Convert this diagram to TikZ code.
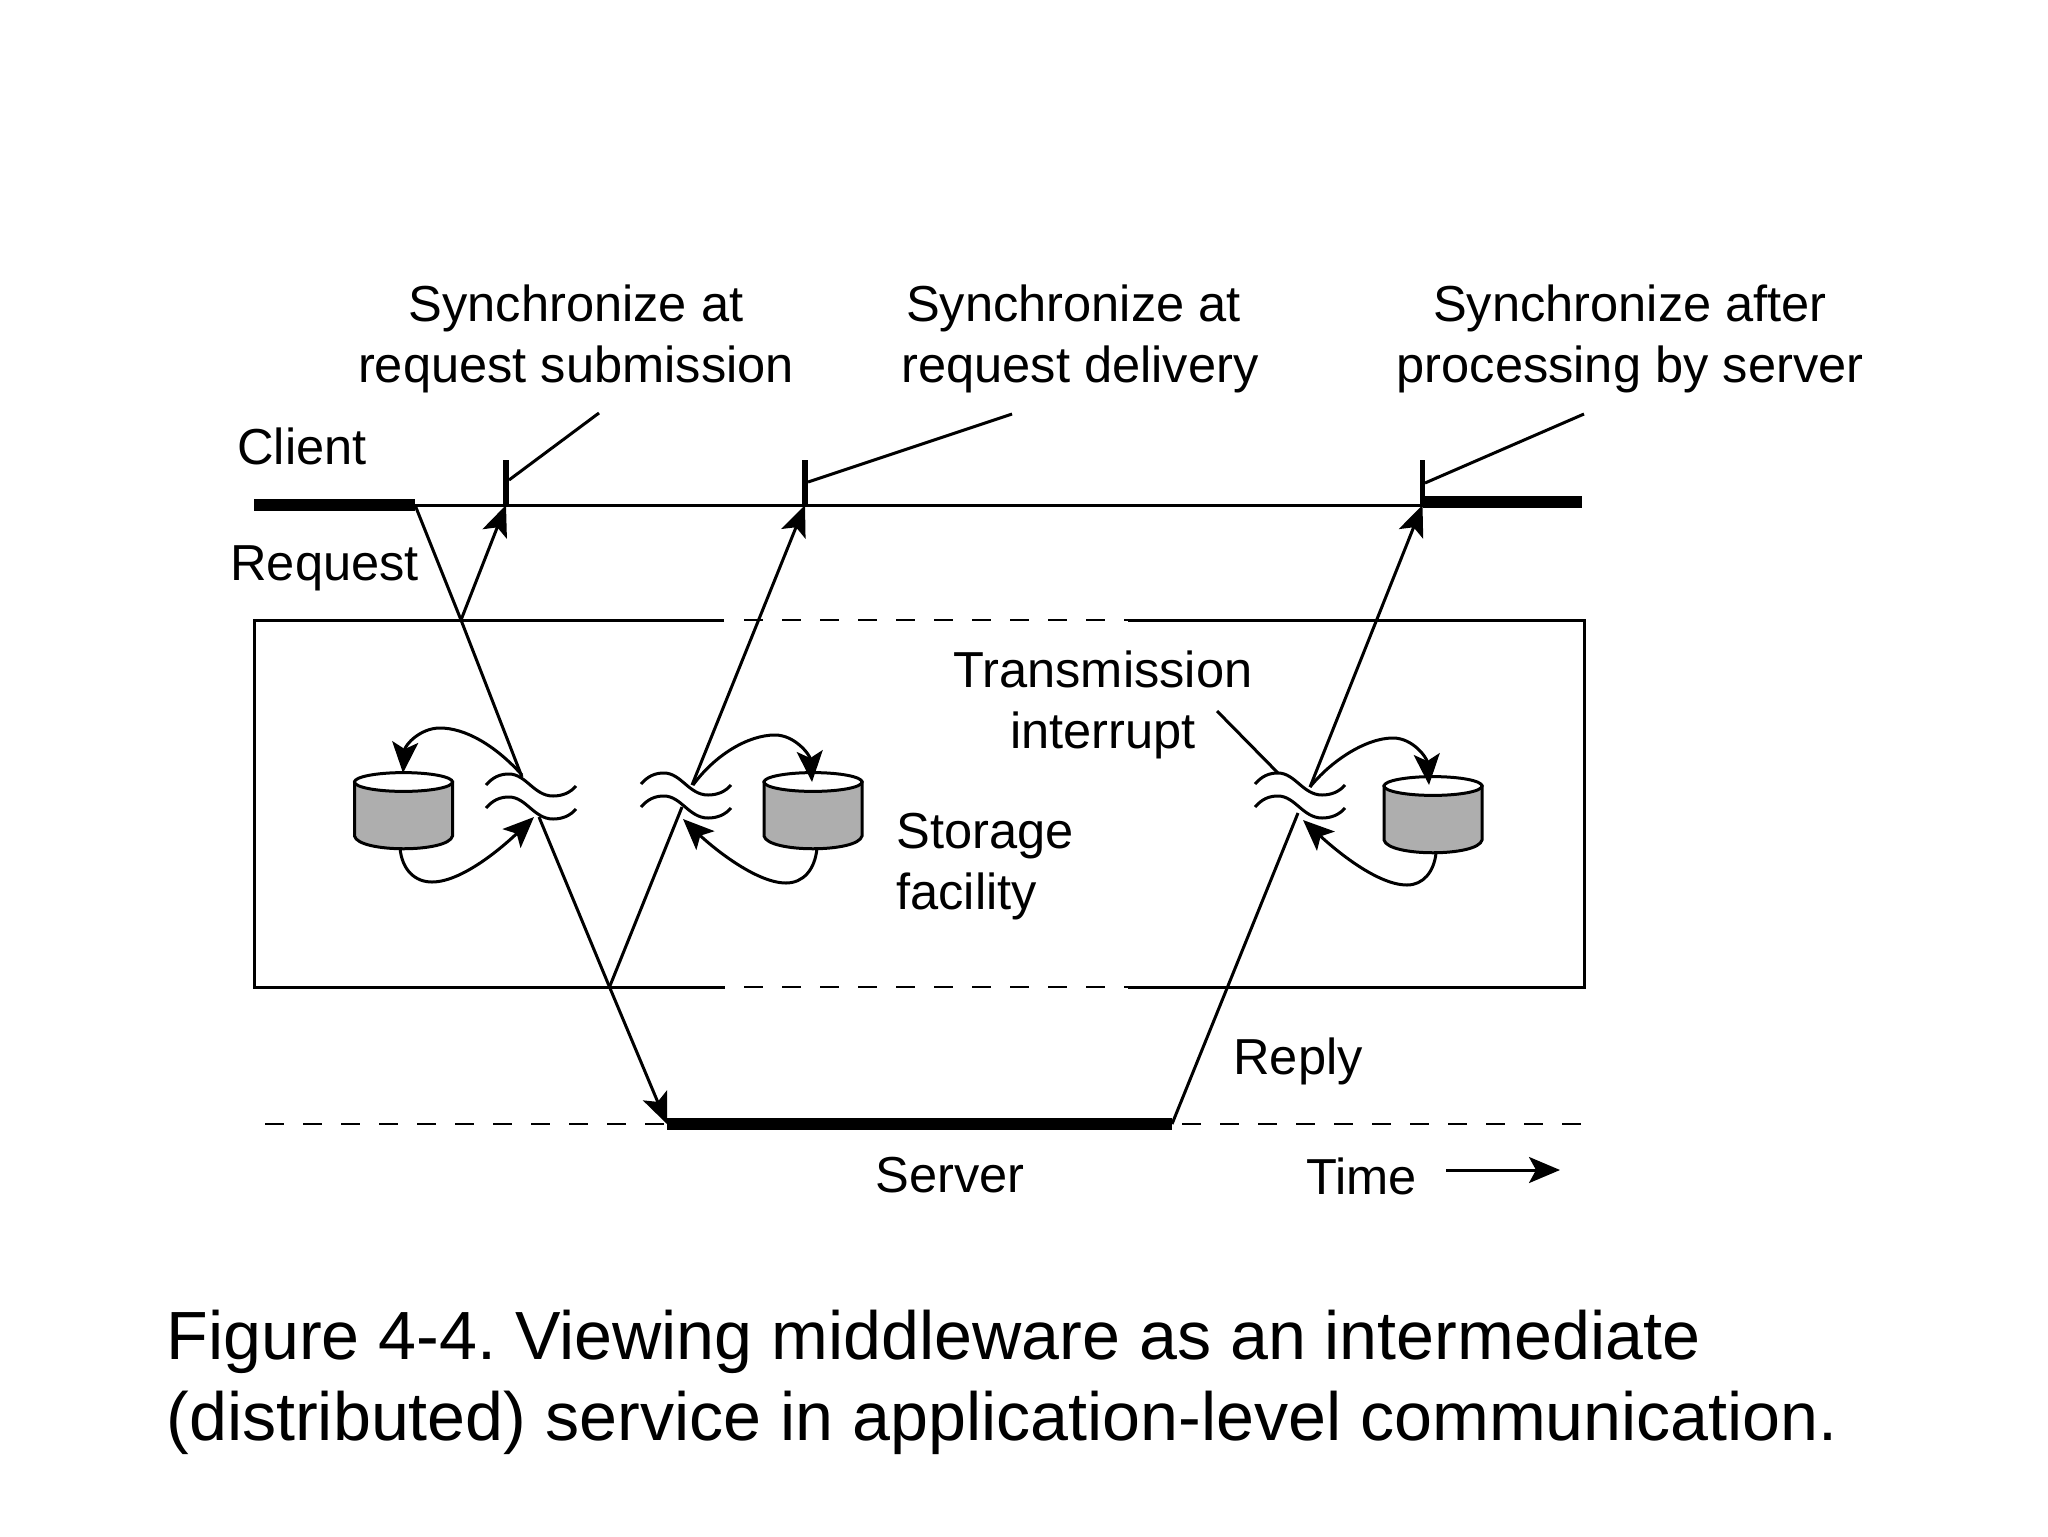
\documentclass[tikz,border=0pt]{standalone}
\usepackage{fontspec}
\setmainfont{Liberation Sans}
\usetikzlibrary{arrows.meta}
\frenchspacing
\tikzset{
  flow/.style={line width=1.5pt,-{Stealth[length=15.5pt,width=13pt,inset=3.5pt]}},
  plain/.style={line width=1.5pt},
  wave/.style={line width=1.5pt},
  heavy/.style={line width=6pt},
  tick/.style={line width=2.8pt},
  gapline/.style={line width=1.4pt,dash pattern=on 9.5pt off 9.5pt},
  label/.style={inner sep=0pt,font=\fontsize{25.3}{30.5}\selectfont},
}
\definecolor{diskgray}{HTML}{AEAEAE}
\begin{document}
\begin{tikzpicture}[x=0.5pt,y=-0.5pt]
            \useasboundingbox (0,0) rectangle (2048,1536);
            % labels
            \node[label,align=center,anchor=base] (syncsub) at (576,382.5){Synchronize at\\request submission};
            \node[label,align=center,anchor=base] (syncdel) at (1080,382.5){Synchronize at\hspace*{6.5pt}\\request delivery};
            \node[label,align=center,anchor=base] (syncsrv) at (1630,382.5){Synchronize after\\processing by server};
            \node[label,anchor=base west] (client) at (237,464){Client};
            \node[label,anchor=base west] (request) at (230,580){Request};
            \node[label,align=center,anchor=base] (interrupt) at (1103,748.5){Transmission\\interrupt};
            \node[label,align=left,anchor=base west] (storage) at (896,909.5){Storage\\facility};
            \node[label,anchor=base west] (reply) at (1233,1074){Reply};
            \node[label,anchor=base west] (server) at (875,1192.5){Server};
            \node[label,anchor=base west] (time) at (1306,1194.5){Time};
            \node[inner sep=0pt,align=left,anchor=base west,font=\fontsize{34.1}{40.5}\selectfont] (caption) at (166,1440)
              {Figure 4-4. Viewing middleware as an intermediate\\(distributed) service in application-level communication.};
            % points on the time lines
            \coordinate (c0) at (254,505);
            \coordinate (c1) at (415,505);
            \coordinate (m1) at (506,505);
            \coordinate (m2) at (805,505);
            \coordinate (m3) at (1422.5,505);
            \coordinate (c2) at (1582,502);
            \coordinate (t1) at (506,460);
            \coordinate (t2) at (805,460);
            \coordinate (t3) at (1422.5,460);
            \coordinate (s0) at (265,1124);
            \coordinate (s1) at (667,1124);
            \coordinate (s2) at (1172,1124);
            \coordinate (s3) at (1584,1124);
            \coordinate (in) at (461,620);
            \coordinate (out) at (609.5,987);
            % time lines
            \draw[heavy] (c0) -- (c1);
            \draw[plain] (c1) -- (m3);
            \draw[heavy] (m3 |- c2) -- (c2);
            \draw[heavy] (s1) -- (s2);
            \draw[gapline] (s0) -- (s1);
            \draw[gapline] (1182,1124) -- (s3);
            \foreach \i in {1,2,3}
              \draw[tick] (t\i) -- (m\i);
            % leaders
            \draw[plain] (599,413) -- (509,480);
            \draw[plain] (1012,414) -- (808,482);
            \draw[plain] (1584,414) -- (1425,483);
            \draw[plain] (1217,711) -- (1278,773);
            % middleware box
            \draw[plain] (724,620) -- (254,620) -- (254,987) -- (725,987);
            \draw[plain] (1128,620) -- (1584,620) -- (1584,987) -- (1128,987);
            \draw[gapline] (744,620) -- (1128,620);
            \draw[gapline] (744,987) -- (1128,987);
            % messages
            \draw[plain] (c1) -- (in) -- (522,777);
            \draw[flow] (539,817) -- (out) -- (s1);
            \draw[flow] (in) -- (m1);
            \draw[plain] (out) -- (682,807);
            \draw[flow] (692,785) -- (m2);
            \draw[plain] (s2) -- (1298,813);
            \draw[flow] (1310,787) -- (m3);
            % interrupts
            \foreach \x/\y in {486/785,486/808,641/784,641/807,1255/784,1255/807}
              \draw[wave,shift={(\x,\y)}] (0,0) .. controls (7,-8) and (14,-11) .. (23,-11)
                .. controls (40,-11) and (48,11) .. (67,11) .. controls (76,11) and (84,8) .. (90,1);
            % storage
            \foreach \x/\y in {403.5/782,813/782,1433/786}{
              \draw[plain,fill=diskgray,shift={(\x,\y)}] (-49,0) -- (-49,54)
                .. controls (-45,71) and (45,71) .. (49,54) -- (49,0) -- cycle;
              \draw[plain,fill=white,shift={(\x,\y)}] (0,0) circle[x radius=24.5pt,y radius=4.7pt];
            }
            \draw[flow] (522,775) .. controls (495,745) and (465,728) .. (440,728) .. controls (420,728) and (405,745) .. (403,773);
            \draw[flow] (400,848) .. controls (402,870) and (415,882) .. (432,882) .. controls (465,882) and (510,840) .. (534,817);
            \draw[flow] (693,785) .. controls (715,755) and (748,735) .. (775,735) .. controls (795,735) and (810,755) .. (812,782);
            \draw[flow] (817,848) .. controls (815,870) and (803,883) .. (786,883) .. controls (755,883) and (710,845) .. (683,819);
            \draw[flow] (1310,787) .. controls (1330,762) and (1365,738) .. (1393,738) .. controls (1413,738) and (1427,758) .. (1429,785);
            \draw[flow] (1436,853) .. controls (1434,872) and (1423,885) .. (1407,885) .. controls (1375,885) and (1330,845) .. (1303,820);
            % time
            \draw[flow] (1446,1170) -- (1560,1170);
          \end{tikzpicture}
\end{document}
